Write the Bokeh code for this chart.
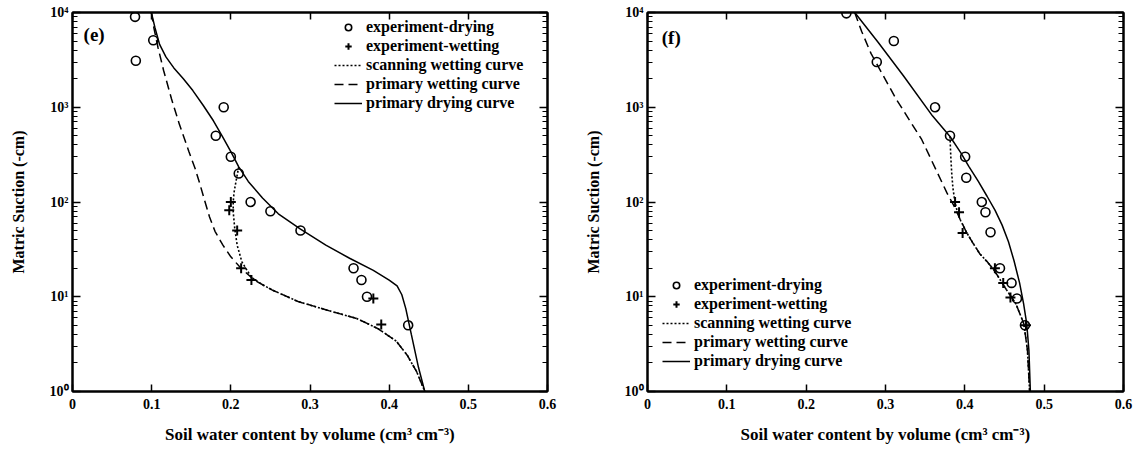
from bokeh.plotting import figure
from bokeh.models import (LogAxis, LinearAxis, FixedTicker, CustomJSTickFormatter,
                          Legend, LegendItem, Label, Range1d)
from bokeh.layouts import row
from bokeh.embed import file_html
from bokeh.resources import INLINE

FONT = "Liberation Serif"

# ---- axes / labels ----
x_ticks = [0.0, 0.1, 0.2, 0.3, 0.4, 0.5, 0.6]
x_tick_labels = ["0", "0.1", "0.2", "0.3", "0.4", "0.5", "0.6"]
y_ticks = [1, 10, 100, 1000, 10000]
y_tick_labels = ["10\u2070", "10\u00b9", "10\u00b2", "10\u00b3", "10\u2074"]
y_minor = [m * d for d in [1, 10, 100, 1000] for m in range(2, 10)]
x_label = "Soil water content by volume (cm\u00b3 cm\u207b\u00b3)"
y_label = "Matric Suction (-cm)"
legend_labels = ["experiment-drying", "experiment-wetting", "scanning wetting curve",
                 "primary wetting curve", "primary drying curve"]
panel_labels = ["(e)", "(f)"]

# ---- panel (e) ----
e_dry_theta = [0.079, 0.080, 0.102, 0.191, 0.181, 0.200, 0.210, 0.225, 0.250, 0.288, 0.355, 0.365, 0.372, 0.424]
e_dry_h = [9000, 3100, 5100, 1000, 500, 300, 200, 100, 80, 50, 20, 15, 10, 5]
e_wet_theta = [0.200, 0.198, 0.208, 0.213, 0.226, 0.380, 0.390]
e_wet_h = [100, 82, 50, 20, 15, 9.6, 5.1]
e_pdry_theta = [0.0996, 0.104, 0.110, 0.118, 0.128, 0.140, 0.152, 0.165, 0.178, 0.190, 0.200,
                0.210, 0.222, 0.240, 0.260, 0.288, 0.320, 0.350, 0.380, 0.400, 0.410, 0.416,
                0.421, 0.428, 0.437, 0.445]
e_pdry_h = [10000, 7000, 4600, 3400, 2600, 2000, 1500, 1050, 720, 480, 340,
            235, 165, 110, 75, 51.7, 35, 25.5, 19, 15, 13, 10.5,
            7.5, 4.0, 1.8, 1.0]
e_pwet_theta = [0.0996, 0.103, 0.108, 0.115, 0.125, 0.135, 0.147, 0.155, 0.161, 0.167, 0.173,
                0.180, 0.190, 0.200, 0.212, 0.230, 0.253, 0.285, 0.322, 0.359, 0.386, 0.409,
                0.423, 0.435, 0.445]
e_pwet_h = [10000, 6760, 4270, 2460, 1230, 660, 341, 224, 154, 103, 70,
            49, 35, 26.4, 20.3, 14.9, 11.7, 8.9, 7.2, 5.9, 4.6, 3.4,
            2.4, 1.6, 1.0]
e_scan_theta = [0.210, 0.2065, 0.204, 0.203, 0.203, 0.205, 0.208, 0.214, 0.226, 0.240, 0.253,
                0.285, 0.322, 0.359, 0.386, 0.409, 0.423, 0.435, 0.445]
e_scan_h = [235, 165, 125, 100, 78.5, 52, 35, 23.3, 16.0, 13.4, 11.7,
            8.9, 7.2, 5.9, 4.6, 3.4, 2.4, 1.6, 1.0]

# ---- panel (f) ----
f_dry_theta = [0.2507, 0.3105, 0.289, 0.3625, 0.3813, 0.4004, 0.4018, 0.4214, 0.426, 0.4324, 0.4443, 0.4589, 0.4657, 0.4758]
f_dry_h = [9800, 5000, 3000, 1000, 500, 300, 180, 100, 78, 48, 20, 14, 9.6, 5]
f_wet_theta = [0.3877, 0.3927, 0.3972, 0.4379, 0.4484, 0.4575, 0.4771]
f_wet_h = [100, 78, 47, 20, 14, 9.8, 5]
f_pdry_theta = [0.2612, 0.2909, 0.3228, 0.3594, 0.3813, 0.395, 0.405, 0.417, 0.428, 0.438,
                0.447, 0.455, 0.462, 0.469, 0.474, 0.478, 0.4808, 0.4826]
f_pdry_h = [10000, 4820, 2140, 807, 491, 330, 238, 165, 115, 82,
            57, 38, 24, 14, 8.5, 5.2, 2.7, 1.0]
f_pwet_theta = [0.2612, 0.2700, 0.2817, 0.3137, 0.3456, 0.3776, 0.386, 0.394, 0.402, 0.411,
                0.4187, 0.428, 0.437, 0.4507, 0.4644, 0.4744, 0.479, 0.4817]
f_pwet_h = [10000, 6300, 3700, 1210, 457, 124, 92, 66, 48, 36,
            28.5, 23.5, 19, 12.5, 8.4, 5.2, 2.7, 1.0]
f_scan_theta = [0.3813, 0.3818, 0.3825, 0.3835, 0.385, 0.3875, 0.391, 0.395, 0.402, 0.411,
                0.4187, 0.428, 0.437, 0.4507, 0.4644, 0.4744, 0.479, 0.4817]
f_scan_h = [491, 380, 280, 200, 140, 100, 76, 63, 48, 36,
            28.5, 23.5, 19, 12.5, 8.4, 5.2, 2.7, 1.0]


def style_axis(ax, show_labels, kind):
    ax.axis_line_width = 2
    ax.axis_line_color = "black"
    ax.major_tick_line_color = "black"
    ax.minor_tick_line_color = "black"
    ax.major_tick_out = 0
    ax.minor_tick_out = 0
    ax.major_tick_line_width = 1.5
    ax.minor_tick_line_width = 1.2
    if kind == "x":
        ax.ticker = FixedTicker(ticks=x_ticks, minor_ticks=[])
        ax.major_tick_in = 7
        ax.minor_tick_in = 0
    else:
        ax.ticker = FixedTicker(ticks=y_ticks, minor_ticks=y_minor)
        ax.major_tick_in = 8
        ax.minor_tick_in = 5
    if show_labels:
        if kind == "x":
            ax.formatter = CustomJSTickFormatter(args=dict(labels=x_tick_labels),
                                                 code="return labels[Math.round(tick*10)];")
        else:
            ax.formatter = CustomJSTickFormatter(args=dict(labels=y_tick_labels),
                                                 code="return labels[Math.round(Math.log10(tick))];")
        ax.major_label_text_font = FONT
        ax.major_label_text_font_style = "bold"
        ax.major_label_text_font_size = "14px"
        ax.major_label_text_color = "black"
        ax.axis_label_text_font = FONT
        ax.axis_label_text_font_style = "bold"
        ax.axis_label_text_font_size = "16px"
        ax.axis_label_text_color = "black"
    else:
        ax.formatter = CustomJSTickFormatter(code="return '';")
        ax.major_label_text_font_size = "1px"
        ax.major_label_standoff = 0


def make_panel(width, mb_left, mb_right, data, legend_loc, panel_label, label_pos):
    (dth, dh, wth, wh, pdth, pdh, pwth, pwh, sth, sh) = data
    p = figure(width=width, height=452, x_range=Range1d(0, 0.6), y_range=Range1d(1, 10000),
               y_axis_type="log", output_backend="svg", toolbar_location=None,
               min_border_left=mb_left, min_border_right=mb_right,
               min_border_top=12, min_border_bottom=61)
    p.grid.visible = False
    p.outline_line_color = "black"
    p.outline_line_width = 2
    p.background_fill_color = "white"
    p.border_fill_color = "white"

    xa = p.xaxis[0]
    style_axis(xa, True, "x")
    xa.axis_label = x_label
    xa.axis_label_text_font_size = "17px"
    xa.major_label_standoff = 7
    xa.axis_label_standoff = 13
    ya = p.yaxis[0]
    style_axis(ya, True, "y")
    ya.axis_label = y_label
    ya.major_label_standoff = 4
    ya.axis_label_standoff = 20

    top = LinearAxis()
    style_axis(top, False, "x")
    p.add_layout(top, "above")
    right = LogAxis()
    style_axis(right, False, "y")
    p.add_layout(right, "right")

    r_scan = p.line(sth, sh, line_color="black", line_width=1.6, line_dash="2 2")
    r_pwet = p.line(pwth, pwh, line_color="black", line_width=1.5, line_dash="9 5")
    r_pdry = p.line(pdth, pdh, line_color="black", line_width=1.5)
    r_dry = p.scatter(dth, dh, marker="circle", size=9, fill_color=None,
                      line_color="black", line_width=1.6)
    r_wet = p.scatter(wth, wh, marker="cross", size=10, line_color="black", line_width=2)

    items = [LegendItem(label=lab, renderers=[r]) for lab, r in
             zip(legend_labels, [r_dry, r_wet, r_scan, r_pwet, r_pdry])]
    leg = Legend(items=items, location=legend_loc, padding=0, margin=0, spacing=1,
                 glyph_width=28, glyph_height=16, label_height=16, label_standoff=4,
                 border_line_color=None, background_fill_alpha=0,
                 label_text_font=FONT, label_text_font_style="bold",
                 label_text_font_size="16px", label_text_color="black")
    p.add_layout(leg)

    p.add_layout(Label(x=label_pos[0], y=label_pos[1], text=panel_label, text_font=FONT,
                       text_font_style="bold", text_font_size="19px", text_color="black",
                       text_baseline="middle"))
    return p


p1 = make_panel(567, 72, 20,
                (e_dry_theta, e_dry_h, e_wet_theta, e_wet_h, e_pdry_theta, e_pdry_h,
                 e_pwet_theta, e_pwet_h, e_scan_theta, e_scan_h),
                (262, 279), panel_labels[0], (0.014, 5900))
p2 = make_panel(571, 80, 15,
                (f_dry_theta, f_dry_h, f_wet_theta, f_wet_h, f_pdry_theta, f_pdry_h,
                 f_pwet_theta, f_pwet_h, f_scan_theta, f_scan_h),
                (15, 21), panel_labels[1], (0.018, 5450))

layout = row(p1, p2)
open("out.html", "w").write(file_html(layout, INLINE))
